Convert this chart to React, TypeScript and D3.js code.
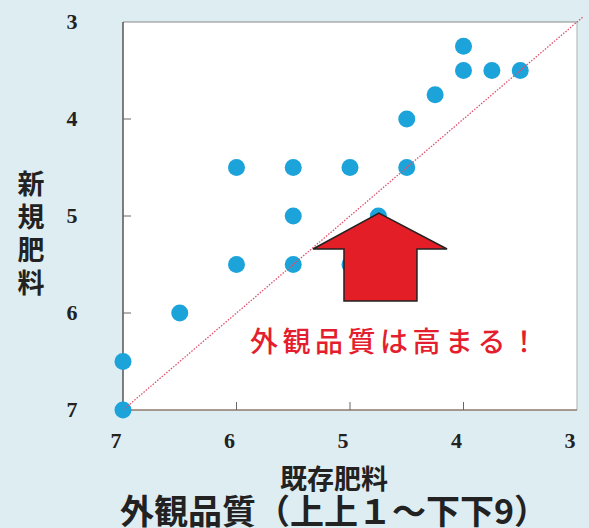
import React from "react";
import * as d3 from "d3";

const existing = [7, 7, 6.5, 6, 5.5, 5, 5.5, 4.75, 6, 5.5, 5, 4.5, 4.5, 4.25, 4, 4, 3.75, 3.5];
const newFert = [7, 6.5, 6, 5.5, 5.5, 5.5, 5, 5, 4.5, 4.5, 4.5, 4.5, 4, 3.75, 3.25, 3.5, 3.5, 3.5];
const ticks = [7, 6, 5, 4, 3];
const yLabel = "新規肥料";
const xLabel = "既存肥料";
const title = "外観品質（上上１～下下9）";
const note = "外観品質は高まる！";
// arrow annotation in data coordinates [existing, new]
const arrowPts: [number, number][] = [
  [4.745, 4.97],
  [4.145, 5.34],
  [4.41, 5.34],
  [4.41, 5.876],
  [5.053, 5.876],
  [5.053, 5.34],
  [5.326, 5.34],
];

const W = 589, H = 528;
const L = 123, R = 577, T = 22, B = 410;

export default function App() {
  const x = d3.scaleLinear().domain([7, 3]).range([L, R]);
  const y = d3.scaleLinear().domain([3, 7]).range([T, B]);
  const line = d3.line<[number, number]>().x(d => x(d[0])).y(d => y(d[1]));
  const jp = "'Noto Sans CJK JP', sans-serif";
  const serif = "'Liberation Serif', serif";
  return (
    <svg width={W} height={H} style={{ position: "absolute", left: 0, top: 0 }}>
      <rect x={0} y={0} width={W} height={H} fill="#deedf2" />
      <rect x={L} y={T} width={R - L} height={B - T} fill="#ffffff" />
      {/* border */}
      <line x1={L} y1={T} x2={R} y2={T} stroke="#8a8a8a" strokeWidth={1.2} />
      <line x1={R} y1={T} x2={R} y2={B} stroke="#b8bcbe" strokeWidth={1.2} />
      <line x1={L} y1={B} x2={R} y2={B} stroke="#8c7a6c" strokeWidth={1.5} />
      <line x1={L} y1={T} x2={L} y2={B} stroke="#555" strokeWidth={1.5} />
      {/* ticks */}
      {ticks.filter(t => t !== 7 && t !== 3).map(t => (
        <g key={"t" + t}>
          <line x1={L} x2={L + 8} y1={y(t)} y2={y(t)} stroke="#666" strokeWidth={1} />
          <line x1={x(t)} x2={x(t)} y1={B} y2={B - 8} stroke="#666" strokeWidth={1} />
        </g>
      ))}
      {ticks.map(t => (
        <text key={"yl" + t} x={72} y={y(t) + 7} textAnchor="middle" fontFamily={serif} fontWeight="bold" fontSize={22} fill="#222">{t}</text>
      ))}
      {ticks.map(t => (
        <text key={"xl" + t} x={x(t) - 7} y={448} textAnchor="middle" fontFamily={serif} fontWeight="bold" fontSize={22} fill="#222">{t}</text>
      ))}
      {/* dots */}
      {existing.map((e, i) => (
        <circle key={"p" + i} cx={x(e)} cy={y(newFert[i])} r={8.5} fill="#1ca3da" />
      ))}
      {/* diagonal */}
      <path d={line([[7, 7], [2.95, 2.95]]) || ""} stroke="#e0506e" strokeWidth={1.3} strokeDasharray="1.5 1.5" fill="none" />
      {/* arrow */}
      <path d={(line(arrowPts) || "") + "Z"} fill="#e41e26" stroke="#222" strokeWidth={1.5} strokeLinejoin="miter" />
      <text x={250} y={352} fontFamily={jp} fontWeight={500} fontSize={28} fill="#e41e2e" letterSpacing={4.5}>{note}</text>
      {/* y label */}
      <text x={31} y={170} fontFamily={jp} fontWeight="bold" fontSize={27} fill="#222"
        style={{ writingMode: "vertical-rl" }} letterSpacing={6}>{yLabel}</text>
      <text x={334} y={489} textAnchor="middle" fontFamily={jp} fontWeight="bold" fontSize={27} fill="#222">{xLabel}</text>
      <text x={334} y={524} textAnchor="middle" fontFamily={jp} fontWeight="bold" fontSize={34} fill="#222">{title}</text>
    </svg>
  );
}
